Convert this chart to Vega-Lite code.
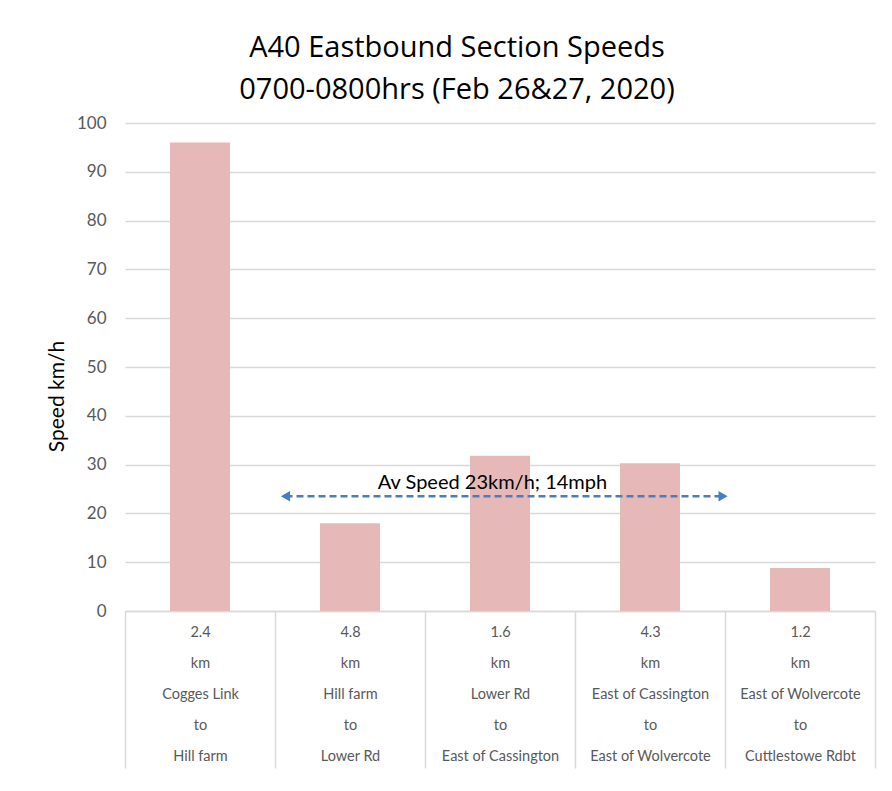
{
  "$schema": "https://vega.github.io/schema/vega-lite/v6.json",
  "width": 750,
  "height": 488,
  "autosize": {"type": "none"},
  "padding": {"left": 125, "top": 123, "right": 17, "bottom": 180},
  "background": "white",
  "config": {"font": "Lato", "view": {"stroke": null}},
  "title": {
    "text": ["A40 Eastbound Section Speeds", "0700-0800hrs (Feb 26&27, 2020)"],
    "fontSize": 29,
    "font": "Open Sans",
    "fontWeight": "normal",
    "color": "#000000",
    "anchor": "middle",
    "frame": "group",
    "dx": -43,
    "offset": 9,
    "lineHeight": 42
  },
  "layer": [
    {
      "data": {
        "values": [
          {"section": "2.4|km|Cogges Link|to|Hill farm", "speed": 96},
          {"section": "4.8|km|Hill farm|to|Lower Rd", "speed": 18},
          {"section": "1.6|km|Lower Rd|to|East of Cassington", "speed": 31.8},
          {"section": "4.3|km|East of Cassington|to|East of Wolvercote", "speed": 30.3},
          {"section": "1.2|km|East of Wolvercote|to|Cuttlestowe Rdbt", "speed": 8.8}
        ]
      },
      "mark": {"type": "bar", "color": "#E6B9B8", "width": {"band": 0.4}},
      "encoding": {
        "x": {
          "field": "section",
          "type": "nominal",
          "sort": null,
          "scale": {"paddingInner": 0, "paddingOuter": 0},
          "axis": {
            "title": null,
            "labelAngle": 0,
            "labelExpr": "split(datum.label, '|')",
            "labelLineHeight": 31,
            "labelFontSize": 14.5,
            "labelColor": "#595959",
            "labelBaseline": "top",
            "labelPadding": -143,
            "labelLimit": 200,
            "tickBand": "extent",
            "tickSize": 157,
            "tickColor": "#D9D9D9",
            "tickWidth": 1.5,
            "domainColor": "#D9D9D9",
            "domainWidth": 1.5,
            "grid": false
          }
        },
        "y": {
          "field": "speed",
          "type": "quantitative",
          "scale": {"domain": [0, 100], "nice": false},
          "axis": {
            "title": "Speed km/h",
            "titleFontSize": 21,
            "titleFontWeight": "normal",
            "titleColor": "#000000",
            "titlePadding": 9,
            "titleY": 273,
            "values": [0, 10, 20, 30, 40, 50, 60, 70, 80, 90, 100],
            "domain": false,
            "ticks": false,
            "labelFontSize": 17,
            "labelColor": "#595959",
            "labelPadding": 19,
            "gridColor": "#D9D9D9",
            "gridWidth": 1.3
          }
        }
      }
    },
    {
      "data": {"values": [{"from": 1.07, "to": 3.987, "speed": 23.5}]},
      "layer": [
        {
          "mark": {"type": "rule", "color": "#4A7EBB", "strokeWidth": 2.5, "strokeDash": [7, 4]},
          "encoding": {
            "x": {"field": "from", "type": "quantitative", "scale": {"domain": [0, 5], "nice": false, "zero": false}, "axis": null},
            "x2": {"field": "to"},
            "y": {"field": "speed", "type": "quantitative"}
          }
        },
        {
          "mark": {"type": "point", "shape": "triangle-left", "filled": true, "opacity": 1, "color": "#4A7EBB", "size": 110},
          "encoding": {
            "x": {"field": "from", "type": "quantitative", "scale": {"domain": [0, 5], "nice": false, "zero": false}, "axis": null},
            "y": {"field": "speed", "type": "quantitative"}
          }
        },
        {
          "mark": {"type": "point", "shape": "triangle-right", "filled": true, "opacity": 1, "color": "#4A7EBB", "size": 110},
          "encoding": {
            "x": {"field": "to", "type": "quantitative", "scale": {"domain": [0, 5], "nice": false, "zero": false}, "axis": null},
            "y": {"field": "speed", "type": "quantitative"}
          }
        }
      ]
    },
    {
      "data": {"values": [{"label": "Av Speed 23km/h; 14mph", "pos": 2.45, "speed": 25}]},
      "mark": {"type": "text", "font": "Lato", "fontSize": 20, "color": "#000000", "align": "center", "baseline": "alphabetic"},
      "encoding": {
        "x": {"field": "pos", "type": "quantitative", "scale": {"domain": [0, 5], "nice": false, "zero": false}, "axis": null},
        "y": {"field": "speed", "type": "quantitative"},
        "text": {"field": "label"}
      }
    }
  ],
  "resolve": {"scale": {"x": "independent"}}
}
